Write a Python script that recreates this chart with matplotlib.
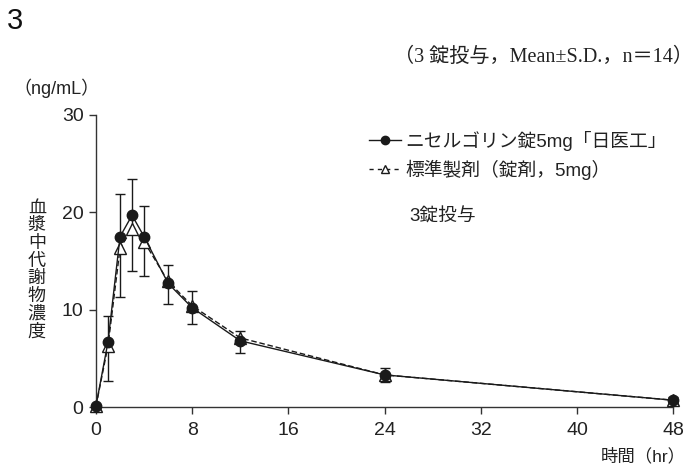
import matplotlib
matplotlib.use("Agg")
import matplotlib.pyplot as plt
from matplotlib.lines import Line2D

plt.rcParams['font.family'] = ['Liberation Sans', 'Noto Sans CJK JP', 'DejaVu Sans']

# data
hours = [0, 1, 2, 3, 4, 6, 8, 12, 24, 48]
test_mean = [0.1, 6.7, 17.5, 19.7, 17.5, 12.7, 10.2, 6.8, 3.3, 0.7]
test_upper = [0.1, 9.4, 21.9, 23.4, 20.7, 14.6, 11.9, 7.8, 4.05, 1.0]
test_lower = [0.1, 2.65, 11.3, 14.0, 13.5, 10.6, 8.5, 5.6, 2.6, 0.45]
ref_mean = [0.1, 6.3, 16.3, 18.3, 17.0, 12.9, 10.4, 7.1, 3.3, 0.7]
x_ticks = [0, 8, 16, 24, 32, 40, 48]
y_ticks = [0, 10, 20, 30]
labels = ["ニセルゴリン錠5mg「日医工」", "標準製剤（錠剤，5mg）"]

col = '#1a1a1a'
fig = plt.figure(figsize=(6.94, 4.68), dpi=100)
ax = fig.add_axes([0.1383, 0.1303, 0.8317, 0.624])

ax.plot(hours, ref_mean, linestyle=(0, (4, 2)), color=col, lw=1.0,
        marker='^', markersize=8, markerfacecolor='white', markeredgecolor=col,
        markeredgewidth=1.0, zorder=3)
yerr = [[m - lo for m, lo in zip(test_mean, test_lower)],
        [hi - m for m, hi in zip(test_mean, test_upper)]]
ax.errorbar(hours, test_mean, yerr=yerr, fmt='none', ecolor=col, elinewidth=1.0,
            capsize=3.8, capthick=1.0, zorder=2)
ax.plot(hours, test_mean, linestyle='-', color=col, lw=1.0, marker='o',
        markersize=7.5, markerfacecolor=col, markeredgecolor=col, zorder=4)

ax.set_xlim(0, 48)
ax.set_ylim(0, 30)
ax.set_xticks(x_ticks)
ax.set_yticks(y_ticks)
for s in ['top', 'right']:
    ax.spines[s].set_visible(False)
for s in ['left', 'bottom']:
    ax.spines[s].set_color('#333333')
    ax.spines[s].set_linewidth(1.0)
ax.tick_params(direction='out', length=5, width=1.0, colors='#333333',
               labelsize=14, labelcolor='#222222', pad=4)
ax.tick_params(axis='x', pad=6)
ax.margins(0)
for art in ax.lines:
    art.set_clip_on(False)
for c in ax.collections:
    c.set_clip_on(False)

h1 = Line2D([], [], color=col, lw=1.0, marker='o', markersize=6,
            markerfacecolor=col, markeredgecolor=col)
h2 = Line2D([], [], color=col, lw=1.0, linestyle=(0, (3, 3)), marker='^', markersize=6,
            markerfacecolor='white', markeredgecolor=col)
leg = fig.legend([h1, h2], labels, loc='upper left', bbox_to_anchor=(0.532, 0.720),
                 frameon=False, fontsize=13.5, handlelength=1.7, handletextpad=0.25,
                 labelspacing=0.45, borderaxespad=0, borderpad=0)
for t in leg.get_texts():
    t.set_color('#222222')

fig.text(0.590, 0.536, "3錠投与", fontsize=13.5, color='#222222', va='center', ha='left')
fig.text(0.010, 0.955, "3", fontsize=21, color='#111111', va='center', ha='left',
         family=['Liberation Sans Narrow', 'Liberation Sans'])
fig.text(0.998, 0.877, "（3 錠投与，Mean±S.D.，n＝14）", fontsize=14.5, color='#222222',
         va='center', ha='right', family=['Liberation Serif', 'Noto Sans CJK JP'])
fig.text(0.020, 0.812, "（ng/mL）", fontsize=13, color='#222222', va='center', ha='left')
fig.text(0.053, 0.423, "\n".join("血漿中代謝物濃度"), fontsize=13, color='#222222',
         va='center', ha='center', linespacing=1.05)
fig.text(0.988, 0.025, "時間（hr）", fontsize=12.5, color='#222222', va='center', ha='right')

fig.savefig("out.png", dpi=100)
